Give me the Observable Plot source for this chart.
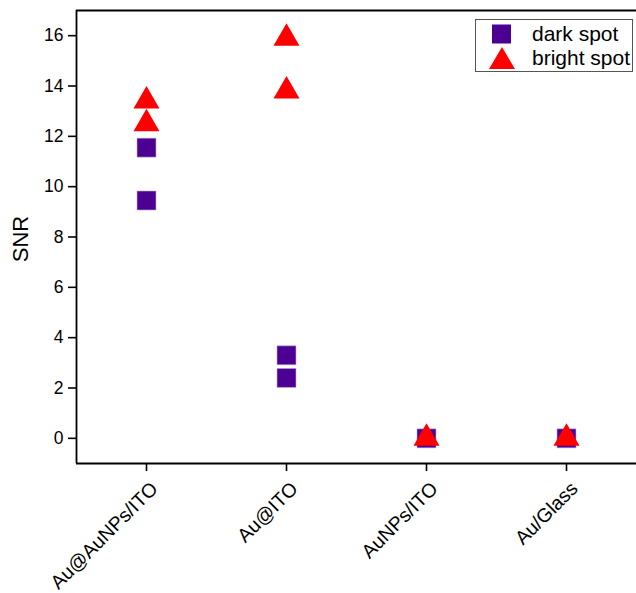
<!DOCTYPE html>
<html>
<head>
<meta charset="utf-8">
<script src="https://cdn.jsdelivr.net/npm/d3@7"></script>
<script src="https://cdn.jsdelivr.net/npm/@observablehq/plot@0.6"></script>
<style>
  html, body { margin: 0; padding: 0; background: #fff; }
  #wrap { position: relative; width: 636px; height: 593px; font-family: "Liberation Sans", Arial, sans-serif; }
  #legend { position: absolute; left: 475px; top: 19px; width: 158px; height: 53px; border: 1px solid #555; background: #fff; box-sizing: border-box; }
  #legend .row { position: absolute; left: 0; display: flex; align-items: center; font-size: 21px; color: #000; }
  #legend svg { display: block; }
</style>
</head>
<body>
<div id="wrap">
  <div id="chart"></div>
  <div id="legend"></div>
</div>
<script>
const categories = ["Au@AuNPs/ITO", "Au@ITO", "AuNPs/ITO", "Au/Glass"];
const seriesNames = ["dark spot", "bright spot"];
const darkIndex = [0, 0, 1, 1, 2, 3];
const darkSNR = [11.55, 9.45, 3.3, 2.4, 0.0, 0.0];
const brightIndex = [0, 0, 1, 1, 2, 3];
const brightSNR = [13.4, 12.5, 15.9, 13.8, 0.0, 0.0];
const yTicks = [0, 2, 4, 6, 8, 10, 12, 14, 16];

const darkColor = "#4b0092";
const brightColor = "#ff0000";

const dark = darkIndex.map((c, i) => ({x: c, y: darkSNR[i]}));
const bright = brightIndex.map((c, i) => ({x: c, y: brightSNR[i]}));
const catIdx = categories.map((c, i) => i);

const chart = Plot.plot({
  width: 636,
  height: 593,
  marginLeft: 76,
  marginRight: 0,
  marginTop: 10,
  marginBottom: 130,
  style: {fontFamily: "'Liberation Sans', Arial, sans-serif", color: "#000", background: "#fff"},
  x: {type: "linear", domain: [-0.5, 3.5]},
  y: {domain: [-1, 17]},
  marks: [
    Plot.axisY({ticks: yTicks, tickSize: 8, tickPadding: 5, fontSize: 17.5, label: null, strokeWidth: 1.6}),
    Plot.axisX({ticks: catIdx, tickFormat: () => "", tickSize: 8, label: null, strokeWidth: 1.6}),
    Plot.text(catIdx, {x: d => d, y: -1, text: d => categories[d], rotate: -45, textAnchor: "end", lineAnchor: "middle", dx: 8, dy: 22, fontSize: 19.5, fill: "#000"}),
    Plot.ruleX([-0.5], {stroke: "#000", strokeWidth: 1.8}),
    Plot.ruleY([-1], {stroke: "#000", strokeWidth: 1.8}),
    Plot.ruleY([17], {stroke: "#000", strokeWidth: 1.8}),
    Plot.text(["SNR"], {frameAnchor: "left", textAnchor: "middle", dx: -56, dy: 2, rotate: -90, fontSize: 22, fill: "#000"}),
    Plot.dot(dark, {x: "x", y: "y", symbol: "square", r: 10.7, fill: darkColor, stroke: "#b8a8dc", strokeWidth: 0.6}),
    Plot.dot(bright, {x: "x", y: "y", symbol: "triangle", r: 9.65, fill: brightColor})
  ]
});
document.getElementById("chart").appendChild(chart);

// legend
const legend = document.getElementById("legend");
const rows = [
  {name: seriesNames[0], top: 2, shape: `<svg width="56" height="24"><rect x="16" y="2.5" width="19" height="19" fill="${darkColor}"/></svg>`},
  {name: seriesNames[1], top: 26, shape: `<svg width="56" height="24"><polygon points="13,23 39,23 26,1" fill="${brightColor}"/></svg>`}
];
rows.forEach(r => {
  const d = document.createElement("div");
  d.className = "row";
  d.style.top = r.top + "px";
  d.innerHTML = r.shape + `<span>${r.name}</span>`;
  legend.appendChild(d);
});
</script>
</body>
</html>
